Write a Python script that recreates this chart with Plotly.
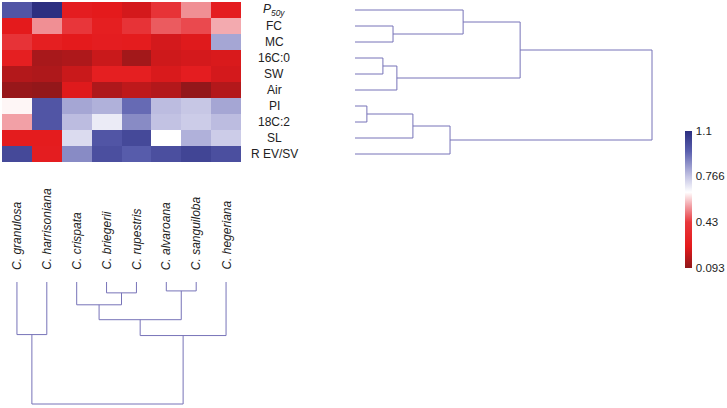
import plotly.graph_objects as go

# ---------------- data ----------------
row_labels = ["<i>P</i><sub><i>50y</i></sub>", "FC", "MC", "16C:0", "SW", "Air",
              "PI", "18C:2", "SL", "R EV/SV"]
col_labels = ["C. granulosa", "C. harrisoniana", "C. crispata", "C. briegerii",
              "C. rupestris", "C. alvaroana", "C. sanguiloba", "C. hegeriana"]

r_p50y = [0.98, 1.10, 0.27, 0.25, 0.22, 0.40, 0.53, 0.27]
r_fc = [0.25, 0.53, 0.42, 0.28, 0.40, 0.47, 0.45, 0.56]
r_mc = [0.40, 0.28, 0.25, 0.27, 0.26, 0.22, 0.24, 0.82]
r_16c0 = [0.28, 0.14, 0.15, 0.20, 0.13, 0.21, 0.22, 0.23]
r_sw = [0.16, 0.15, 0.20, 0.28, 0.28, 0.23, 0.27, 0.22]
r_air = [0.11, 0.10, 0.24, 0.15, 0.18, 0.16, 0.10, 0.16]
r_pi = [0.64, 0.98, 0.82, 0.80, 0.93, 0.78, 0.76, 0.82]
r_18c2 = [0.55, 0.98, 0.78, 0.69, 0.87, 0.77, 0.75, 0.78]
r_sl = [0.26, 0.26, 0.72, 0.98, 1.02, 0.65, 0.80, 0.75]
r_rev = [1.02, 0.27, 0.87, 1.00, 0.96, 1.00, 1.03, 1.00]

z_rows = [r_p50y, r_fc, r_mc, r_16c0, r_sw, r_air, r_pi, r_18c2, r_sl, r_rev]

cbar_ticks = [1.1, 0.766, 0.43, 0.093]
zmin, zmax = 0.093, 1.1

# dendrogram merges: (child_a, child_b, height); new cluster ids follow leaf ids
row_merge_a = [1, 0, 3, 12, 11, 6, 15, 16, 14]
row_merge_b = [2, 10, 4, 5, 13, 7, 8, 9, 17]
row_merge_h = [0.128, 0.364, 0.094, 0.141, 0.556, 0.040, 0.195, 0.320, 1.0]

col_merge_a = [3, 5, 2, 10, 11, 0, 13]
col_merge_b = [4, 6, 8, 9, 7, 1, 12]
col_merge_h = [0.089, 0.073, 0.187, 0.309, 0.439, 0.431, 1.0]

# ---------------- helpers ----------------
W, H = 727, 408
LINE = "#7773b8"
FONT = "Liberation Sans, Arial"


def dendro_lines(n_leaves, ma, mb, mh):
    pos = {i: float(i) for i in range(n_leaves)}
    hgt = {i: 0.0 for i in range(n_leaves)}
    P, Hs = [], []
    for k, (a, b, h) in enumerate(zip(ma, mb, mh)):
        P += [pos[a], pos[a], pos[b], pos[b], None]
        Hs += [hgt[a], h, h, hgt[b], None]
        nid = n_leaves + k
        pos[nid] = (pos[a] + pos[b]) / 2
        hgt[nid] = h
    return P, Hs


n_r, n_c = len(row_labels), len(col_labels)

colorscale = [
    [0.0, "#8f171a"],
    [(0.25 - zmin) / (zmax - zmin), "#e41a1c"],
    [(0.43 - zmin) / (zmax - zmin), "#e8383c"],
    [(0.55 - zmin) / (zmax - zmin), "#f2a0a6"],
    [(0.65 - zmin) / (zmax - zmin), "#ffffff"],
    [(0.766 - zmin) / (zmax - zmin), "#c4c4e4"],
    [(0.95 - zmin) / (zmax - zmin), "#5a5fae"],
    [1.0, "#2c2f80"],
]

fig = go.Figure()

fig.add_trace(go.Heatmap(
    z=z_rows, x=list(range(n_c)), y=list(range(n_r)),
    zmin=zmin, zmax=zmax, colorscale=colorscale, xgap=0, ygap=0,
    hoverinfo="skip",
    colorbar=dict(
        x=685 / W, xanchor="left", xref="paper",
        y=1 - 199.5 / H, yanchor="middle",
        len=137, lenmode="pixels", thickness=7,
        outlinewidth=0, tickvals=cbar_ticks,
        ticktext=[str(t) for t in cbar_ticks],
        ticks="outside", ticklen=2, tickcolor="rgba(0,0,0,0)",
        tickfont=dict(size=11.5, color="#222", family=FONT),
        xpad=0, ypad=0,
    ),
))

# row dendrogram (x2 vs y)
rp, rh = dendro_lines(n_r, row_merge_a, row_merge_b, row_merge_h)
fig.add_trace(go.Scatter(x=rh, y=rp, xaxis="x2", yaxis="y", mode="lines",
                         line=dict(color=LINE, width=1), hoverinfo="skip",
                         showlegend=False))

# column dendrogram (x vs y3)
cp, ch = dendro_lines(n_c, col_merge_a, col_merge_b, col_merge_h)
fig.add_trace(go.Scatter(x=cp, y=ch, xaxis="x", yaxis="y3", mode="lines",
                         line=dict(color=LINE, width=1), hoverinfo="skip",
                         showlegend=False))

annotations = []
for i, lab in enumerate(row_labels):
    annotations.append(dict(text=lab, x=274 / W, xref="paper", y=i, yref="y",
                            xanchor="center", yanchor="middle", showarrow=False,
                            font=dict(size=12, color="#222", family=FONT)))
for j, lab in enumerate(col_labels):
    annotations.append(dict(text="<i>" + lab + "</i>", x=j, xref="x",
                            y=1 - 272 / H, yref="paper", textangle=-90,
                            xanchor="center", yanchor="bottom", showarrow=False,
                            font=dict(size=12, color="#222", family=FONT)))

hidden = dict(showgrid=False, zeroline=False, showticklabels=False,
              showline=False, ticks="")

fig.update_layout(
    width=W, height=H, margin=dict(l=0, r=0, t=0, b=0),
    paper_bgcolor="white", plot_bgcolor="rgba(0,0,0,0)",
    showlegend=False,
    xaxis=dict(domain=[2 / W, 241 / W], range=[-0.5, n_c - 0.5], anchor="y", **hidden),
    yaxis=dict(domain=[1 - 162 / H, 1 - 2 / H], range=[n_r - 0.5, -0.5], anchor="x", **hidden),
    xaxis2=dict(domain=[353 / W, 655 / W], range=[-0.00673, 1.0101], anchor="y", **hidden),
    yaxis3=dict(domain=[1 - 407 / H, 1 - 280 / H], range=[1.0246, -0.0164], anchor="x", **hidden),
    annotations=annotations,
)

fig.write_html(
    "out.html",
    config={"displayModeBar": False},
    post_script="document.body.style.margin='0';document.body.style.overflow='hidden';",
)
